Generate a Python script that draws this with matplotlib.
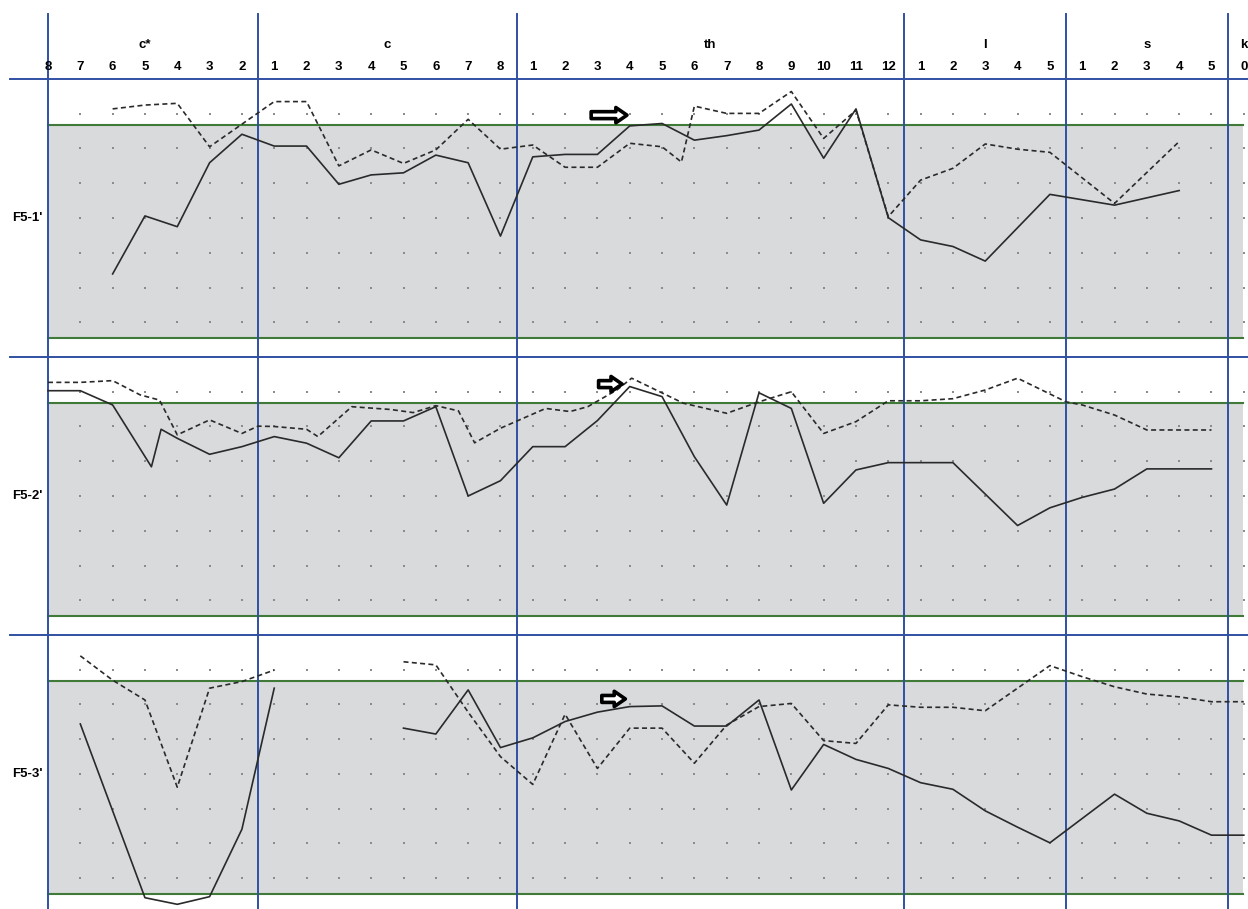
import numpy as np
import matplotlib
matplotlib.use('Agg')
import matplotlib.pyplot as plt

# header labels
groups = ['c*', 'c', 'th', 'l', 's', 'k']
group_pos = [['8', '7', '6', '5', '4', '3', '2'],
             ['1', '2', '3', '4', '5', '6', '7', '8'],
             ['1', '2', '3', '4', '5', '6', '7', '8', '9', '10', '11', '12'],
             ['1', '2', '3', '4', '5'],
             ['1', '2', '3', '4', '5'],
             ['0']]
panel_names = ["F5-1'", "F5-2'", "F5-3'"]

# F5-1'
p1_solid_x = [2, 3, 4, 5, 6, 7, 8, 9, 10, 11, 12, 13, 14, 15, 16, 17, 18, 19, 20, 21, 22, 23, 24, 25, 26, 27, 28, 29, 31, 33, 35]
p1_solid_y = [2.39, 4.06, 3.75, 5.59, 6.41, 6.07, 6.07, 4.97, 5.24, 5.30, 5.81, 5.59, 3.48, 5.76, 5.83, 5.83, 6.65, 6.72, 6.24, 6.37, 6.53, 7.28, 5.72, 7.14, 4.01, 3.37, 3.18, 2.76, 4.68, 4.37, 4.79]
p1_dash_x = [2, 3, 4, 5, 7, 8, 9, 10, 11, 12, 13, 14, 15, 16, 17, 18, 19, 19.6, 20, 21, 22, 23, 24, 25, 26, 27, 28, 29, 30, 31, 33, 35]
p1_dash_y = [7.14, 7.25, 7.30, 6.05, 7.35, 7.35, 5.50, 5.96, 5.57, 5.96, 6.84, 5.98, 6.10, 5.46, 5.46, 6.15, 6.05, 5.61, 7.22, 7.01, 7.01, 7.64, 6.29, 7.10, 4.04, 5.09, 5.43, 6.13, 5.98, 5.89, 4.42, 6.20]

# F5-2'
p2_solid_x = [0, 1, 2, 3.2, 3.5, 4, 5, 6, 7, 8, 9, 10, 11, 12, 13, 14, 15, 16, 17, 18, 19, 20, 21, 22, 23, 24, 25, 26, 28, 30, 31, 32, 33, 34, 36]
p2_solid_y = [7.03, 7.03, 6.62, 4.84, 5.92, 5.66, 5.20, 5.42, 5.71, 5.52, 5.10, 6.16, 6.16, 6.57, 4.00, 4.44, 5.42, 5.42, 6.17, 7.15, 6.86, 5.13, 3.74, 6.97, 6.52, 3.79, 4.75, 4.96, 4.96, 3.15, 3.66, 3.96, 4.20, 4.78, 4.78]
p2_dash_x = [0, 1, 2, 2.85, 3.45, 4, 5, 6, 6.5, 7, 8, 8.35, 9.4, 10.6, 11.3, 12, 12.7, 13.2, 14, 15.4, 16.15, 16.7, 17.6, 18.06, 19.66, 21, 22, 23, 24, 25, 26, 27, 28, 29, 30, 31.5, 32, 33, 34, 36]
p2_dash_y = [7.27, 7.27, 7.32, 6.91, 6.76, 5.76, 6.19, 5.80, 6.01, 6.00, 5.92, 5.71, 6.57, 6.49, 6.40, 6.60, 6.45, 5.53, 5.95, 6.52, 6.43, 6.57, 7.05, 7.39, 6.67, 6.38, 6.71, 7.00, 5.80, 6.14, 6.74, 6.74, 6.80, 7.05, 7.39, 6.71, 6.62, 6.33, 5.90, 5.90]

# F5-3' (nan = gap in the trace)
p3_solid_x = [1, 3, 4, 5, 6, 7, 9, 11, 12, 13, 14, 15, 16, 17, 18, 19, 20, 21, 22, 23, 24, 25, 26, 27, 28, 29, 30, 31, 33, 34, 35, 36, 37]
p3_solid_y = [5.44, 0.44, 0.25, 0.47, 2.41, 6.47, np.nan, 5.32, 5.15, 6.42, 4.76, 5.04, 5.51, 5.78, 5.94, 5.96, 5.38, 5.38, 6.13, 3.54, 4.85, 4.42, 4.16, 3.75, 3.56, 2.94, 2.47, 2.02, 3.42, 2.87, 2.65, 2.24, 2.24]
p3_dash_x = [1, 2, 3, 4, 5, 6, 7, 9, 11, 12, 13, 14, 15, 16, 17, 18, 19, 20, 21, 22, 23, 24, 25, 26, 27, 28, 29, 31, 32, 33, 34, 35, 36, 37]
p3_dash_y = [7.40, 6.70, 6.13, 3.62, 6.47, 6.66, 6.99, np.nan, 7.23, 7.14, 5.78, 4.50, 3.70, 5.72, 4.16, 5.32, 5.32, 4.31, 5.41, 5.94, 6.03, 4.96, 4.88, 5.99, 5.92, 5.92, 5.82, 7.12, 6.80, 6.51, 6.30, 6.22, 6.08, 6.08]

# arrow markers (x start, x end, y) per panel
arrows = [(16.72, 18.0, 6.96), (16.95, 17.85, 7.22), (17.05, 17.95, 6.16)]

panels = [(p1_solid_x, p1_solid_y, p1_dash_x, p1_dash_y),
          (p2_solid_x, p2_solid_y, p2_dash_x, p2_dash_y),
          (p3_solid_x, p3_solid_y, p3_dash_x, p3_dash_y)]

W, H = 1248, 909
BLUE = '#3150a3'
GREEN = '#3f7a38'
GRAY = '#d8dadc'
LINE = '#2a2a2a'
FONT = 'Liberation Sans'
XLIM = (-1.485, 37.13)

fig = plt.figure(figsize=(W / 100, H / 100), dpi=100)
fig.patch.set_facecolor('white')

# group boundaries
sizes = [len(g) for g in group_pos]
starts = np.cumsum([0] + sizes[:-1])
vlines = [0] + [s - 0.5 for s in starts[1:]]

# header
hax = fig.add_axes([0, 1 - 79 / H, 1, 79 / H])
hax.set_xlim(*XLIM)
hax.set_ylim(79, 0)
hax.set_axis_off()
for g, labs, s in zip(groups, group_pos, starts):
    hax.text(s + (len(labs) - 1) / 2, 45, g, ha='center', va='center',
             fontsize=9.5, fontweight='bold', family=FONT)
    for k, lab in enumerate(labs):
        hax.text(s + k, 67, lab, ha='center', va='center',
                 fontsize=9.5, fontweight='bold', family=FONT)
for v in vlines:
    hax.plot([v, v], [14, 79], color=BLUE, lw=1.4, clip_on=False)
hax.plot([-1.18, XLIM[1]], [79, 79], color=BLUE, lw=1.4, clip_on=False)

ncol = sum(sizes)
dot_x, dot_y = np.meshgrid(np.arange(ncol), np.arange(1, 8))

for p, (sx, sy, dx, dy) in enumerate(panels):
    top = 79 + 278 * p
    ax = fig.add_axes([0, 1 - (top + 278) / H, 1, 278 / H])
    ax.set_xlim(*XLIM)
    ax.set_ylim(0, 8)
    ax.set_axis_off()

    ax.fill_between([0, 36.97], 0.54, 6.67, color=GRAY, lw=0, zorder=0)
    ax.scatter(dot_x.ravel(), dot_y.ravel(), s=2.5, marker='s', color='#8c8c8c',
               linewidths=0, zorder=1)
    for yy in (0.54, 6.67):
        ax.plot([0, 36.97], [yy, yy], color=GREEN, lw=1.5, zorder=2)
    for v in vlines:
        ax.axvline(v, color=BLUE, lw=1.4, zorder=2)
    if p > 0:
        ax.plot([-1.18, XLIM[1]], [8, 8], color=BLUE, lw=1.4, clip_on=False, zorder=2)

    ax.plot(sx, np.array(sy, dtype=float), color=LINE, lw=1.2, zorder=3)
    ax.plot(dx, np.array(dy, dtype=float), color=LINE, lw=1.2,
            linestyle=(0, (3, 2)), zorder=3)

    x0, x1, ya = arrows[p]
    ax.annotate('', xy=(x1, ya), xytext=(x0, ya),
                arrowprops=dict(arrowstyle='simple,head_width=1.1,head_length=0.8,tail_width=0.5',
                                fc='white', ec='black', lw=2.6), zorder=4)

    ax.text(-0.65, 4, panel_names[p], ha='center', va='center',
            fontsize=9.5, fontweight='bold', family=FONT)

fig.savefig('out.png', dpi=100, facecolor='white')
